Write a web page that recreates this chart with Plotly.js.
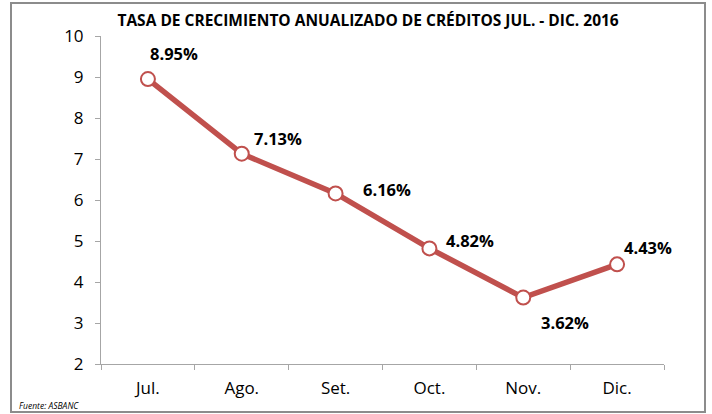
<!DOCTYPE html>
<html><head><meta charset="utf-8">
<script src="https://cdn.plot.ly/plotly-3.0.1.min.js"></script>
<style>
html,body{margin:0;padding:0;background:#fff;}
#chart{width:712px;height:414px;position:absolute;left:0;top:0;}
#frame{position:absolute;left:10px;top:2px;width:692px;height:407px;border:2px solid #8c8c8c;pointer-events:none;}
</style></head>
<body>
<div id="chart"></div>
<div id="frame"></div>
<script>
const months = ["Jul.", "Ago.", "Set.", "Oct.", "Nov.", "Dic."];
const rates = [8.95, 7.13, 6.16, 4.82, 3.62, 4.43];
const yTicks = [2, 3, 4, 5, 6, 7, 8, 9, 10];

const labelShift = [[26, 26], [36, 15], [51, 4], [41, 8], [42, -25], [31, 17]];
const font = "Open Sans, sans-serif";

const trace = {
  x: months, y: rates, type: "scatter", mode: "lines+markers",
  line: {color: "#C0504D", width: 5.5},
  marker: {size: 14, color: "#ffffff", line: {color: "#C0504D", width: 2}},
  hoverinfo: "none"
};

const annotations = rates.map((v, i) => ({
  x: months[i], y: v, xref: "x", yref: "y",
  text: v.toFixed(2) + "%", showarrow: false,
  xshift: labelShift[i][0], yshift: labelShift[i][1],
  font: {family: font, size: 16.5, color: "#000", weight: "bold"}
}));
annotations.push({
  xref: "paper", yref: "paper", x: -0.149, y: -0.125, xanchor: "left", yanchor: "middle",
  text: "<i>Fuente: ASBANC</i>", showarrow: false,
  font: {family: font, size: 8.5, color: "#000"}
});

const layout = {
  width: 712, height: 414,
  margin: {l: 101, r: 48, t: 36, b: 50},
  paper_bgcolor: "#ffffff", plot_bgcolor: "#ffffff",
  showlegend: false,
  title: {text: "<b>TASA DE CRECIMIENTO ANUALIZADO DE CRÉDITOS JUL. - DIC. 2016</b>",
          font: {family: font, size: 15.5, color: "#000"}, x: 0.517, xanchor: "center", y: 0.95, yanchor: "middle"},
  xaxis: {
    type: "category", range: [-0.5, 5.5], showgrid: false, zeroline: false,
    showline: true, linecolor: "#a6a6a6", linewidth: 1,
    ticks: "outside", tickson: "boundaries", ticklen: 5, tickcolor: "#a6a6a6",
    ticklabelstandoff: 9,
    tickfont: {family: font, size: 17, color: "#000"}
  },
  yaxis: {
    range: [2, 10], tickvals: yTicks, showgrid: false, zeroline: false,
    showline: true, linecolor: "#a6a6a6", linewidth: 1,
    ticks: "outside", ticklen: 5, tickcolor: "#a6a6a6",
    ticklabelstandoff: 8,
    tickfont: {family: font, size: 17, color: "#000"}
  },
  annotations: annotations
};

Plotly.newPlot("chart", [trace], layout, {staticPlot: true, displayModeBar: false});
</script>
</body></html>
